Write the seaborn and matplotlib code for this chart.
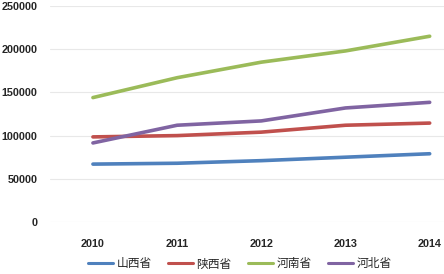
import matplotlib
matplotlib.use("Agg")
import matplotlib.pyplot as plt
import seaborn as sns
import pandas as pd
from matplotlib.lines import Line2D

years = ["2010", "2011", "2012", "2013", "2014"]
shanxi = [67000, 68000, 71000, 75000, 79000]
shaanxi = [98500, 100000, 104000, 112000, 114500]
henan = [144000, 167000, 185000, 198000, 215000]
hebei = [91500, 112000, 117000, 132000, 138500]
series_names = ["山西省", "陕西省", "河南省", "河北省"]
colors = ["#4F81BD", "#C0504D", "#9BBB59", "#8064A2"]

rows = []
for name, vals in zip(series_names, [shanxi, shaanxi, henan, hebei]):
    for i, (y, v) in enumerate(zip(years, vals)):
        rows.append({"idx": i, "year": y, "value": v, "series": name})
df = pd.DataFrame(rows)

sns.set_theme(style="white")
plt.rcParams['font.family'] = ['Noto Sans CJK SC', 'DejaVu Sans']

fig = plt.figure(figsize=(4.44, 2.74), dpi=100)
ax = fig.add_axes([50/444, 1-222/274, 1-50/444, (222-6)/274])

sns.lineplot(data=df, x="idx", y="value", hue="series", hue_order=series_names,
             palette=colors, linewidth=2.6, ax=ax, legend=False)

ax.set_ylim(0, 250000)
ax.set_xlim(-0.51, 4.17)
ax.set_yticks(range(0, 250001, 50000))
ax.set_yticklabels([str(v) for v in range(0, 250001, 50000)],
                   fontsize=7.8, fontweight='bold', family=['Liberation Sans'], color="#262626")
ax.set_xticks(range(len(years)))
ax.set_xticklabels(years, fontsize=7.8, fontweight='bold', family=['Liberation Sans'], color="#262626")
ax.tick_params(axis='y', length=0, pad=9)
ax.tick_params(axis='x', length=0, pad=12)
ax.grid(axis='y', color="#E8E8E8", linewidth=0.8)
for s in ax.spines.values():
    s.set_visible(False)
ax.set_xlabel("")
ax.set_ylabel("")

handles = [Line2D([0], [0], color=c, linewidth=2.2) for c in colors]
fig.legend(handles, series_names, loc="center", bbox_to_anchor=(240/444, 1-264/274),
           ncol=4, frameon=False, handlelength=2.1, handletextpad=0.3,
           columnspacing=1.4, prop={'family': ['Noto Sans CJK SC', 'DejaVu Sans'], 'size': 8.5})

fig.savefig("out.png", dpi=100)
